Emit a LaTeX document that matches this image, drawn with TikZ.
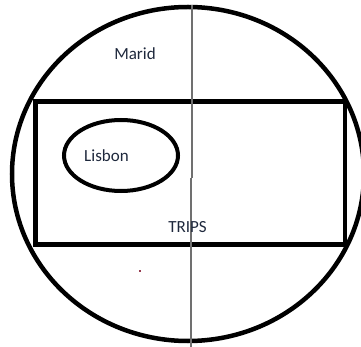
\documentclass[tikz,border=0pt]{standalone}
\usepackage{fontspec}
\setmainfont{Carlito}
\definecolor{txt}{RGB}{30,40,60}
\definecolor{vline}{RGB}{112,112,112}
\definecolor{speck}{RGB}{150,60,80}
\begin{document}
\begin{tikzpicture}[x=1pt,y=-1pt,
  thickline/.style={line width=4.5pt,black},
  label/.style={text=txt,font=\fontsize{17}{20}\selectfont,anchor=base,inner sep=0pt}]
\useasboundingbox (0,0) rectangle (361,347);
\draw[thickline] (188,174) ellipse [x radius=176, y radius=167];
\draw[thickline] (35.5,101.5) rectangle (345,244.5);
\draw[line width=4pt] (121,155.5) ellipse [x radius=57, y radius=35.5];
\draw[vline,line width=1.3pt] (192,5) -- (192,178);
\draw[vline,line width=1.3pt] (191,178) -- (191,347);
\fill[speck] (139,270) rectangle (140.5,271.5);
\node[label] (marid) at (135,60) {Marid};
\node[label] (lisbon) at (106.5,162) {Lisbon};
\node[label] (trips) at (187.5,233) {TRIPS};
\end{tikzpicture}
\end{document}
